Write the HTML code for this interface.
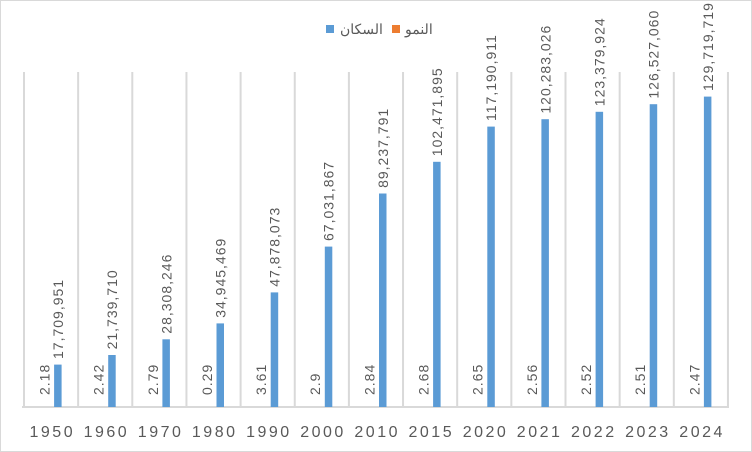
<!DOCTYPE html>
<html><head><meta charset="utf-8"><style>
body{margin:0;background:#fff}
svg{display:block}
text{font-family:"Liberation Sans","Noto Sans CJK SC",sans-serif;fill:#595959}
</style></head><body>
<svg width="752" height="452" xmlns="http://www.w3.org/2000/svg">
<rect x="0.5" y="0.5" width="751" height="451" fill="#fff" stroke="#d9d9d9"/>
<g stroke="#d9d9d9" stroke-width="2">
<line x1="24" y1="72" x2="24" y2="407"/><line x1="78.15" y1="72" x2="78.15" y2="407"/><line x1="132.3" y1="72" x2="132.3" y2="407"/><line x1="186.45" y1="72" x2="186.45" y2="407"/><line x1="240.6" y1="72" x2="240.6" y2="407"/><line x1="294.75" y1="72" x2="294.75" y2="407"/><line x1="348.9" y1="72" x2="348.9" y2="407"/><line x1="403.05" y1="72" x2="403.05" y2="407"/><line x1="457.2" y1="72" x2="457.2" y2="407"/><line x1="511.35" y1="72" x2="511.35" y2="407"/><line x1="565.5" y1="72" x2="565.5" y2="407"/><line x1="619.65" y1="72" x2="619.65" y2="407"/><line x1="673.8" y1="72" x2="673.8" y2="407"/><line x1="727.95" y1="72" x2="727.95" y2="407"/>
<line x1="22" y1="407" x2="729" y2="407"/>
</g>
<g fill="#5b9bd5">
<rect x="54.1" y="364.6" width="7.5" height="42.4"/>
<rect x="108.2" y="355" width="7.5" height="52"/>
<rect x="162.4" y="339.3" width="7.5" height="67.7"/>
<rect x="216.5" y="323.4" width="7.5" height="83.6"/>
<rect x="270.7" y="292.4" width="7.5" height="114.6"/>
<rect x="324.8" y="246.6" width="7.5" height="160.4"/>
<rect x="379" y="193.5" width="7.5" height="213.5"/>
<rect x="433.1" y="161.8" width="7.5" height="245.2"/>
<rect x="487.3" y="126.6" width="7.5" height="280.4"/>
<rect x="541.4" y="119.2" width="7.5" height="287.8"/>
<rect x="595.6" y="111.8" width="7.5" height="295.2"/>
<rect x="649.7" y="104.2" width="7.5" height="302.8"/>
<rect x="703.9" y="96.6" width="7.5" height="310.4"/>
</g>
<g font-size="14" letter-spacing="1" style="fill:#6d6d6d">
<text transform="translate(63,359) rotate(-90)">17,709,951</text>
<text transform="translate(117.1,349.4) rotate(-90)">21,739,710</text>
<text transform="translate(171.3,333.7) rotate(-90)">28,308,246</text>
<text transform="translate(225.4,317.8) rotate(-90)">34,945,469</text>
<text transform="translate(279.6,286.8) rotate(-90)">47,878,073</text>
<text transform="translate(333.7,241) rotate(-90)">67,031,867</text>
<text transform="translate(387.9,187.9) rotate(-90)">89,237,791</text>
<text transform="translate(442,156.2) rotate(-90)">102,471,895</text>
<text transform="translate(496.2,121) rotate(-90)">117,190,911</text>
<text transform="translate(550.3,113.6) rotate(-90)">120,283,026</text>
<text transform="translate(604.5,106.2) rotate(-90)">123,379,924</text>
<text transform="translate(658.6,98.6) rotate(-90)">126,527,060</text>
<text transform="translate(712.8,91) rotate(-90)">129,719,719</text>
<text transform="translate(49.5,395) rotate(-90)">2.18</text>
<text transform="translate(103.6,395) rotate(-90)">2.42</text>
<text transform="translate(157.8,395) rotate(-90)">2.79</text>
<text transform="translate(211.9,395) rotate(-90)">0.29</text>
<text transform="translate(266.1,395) rotate(-90)">3.61</text>
<text transform="translate(320.2,395) rotate(-90)">2.9</text>
<text transform="translate(374.4,395) rotate(-90)">2.84</text>
<text transform="translate(428.5,395) rotate(-90)">2.68</text>
<text transform="translate(482.7,395) rotate(-90)">2.65</text>
<text transform="translate(536.8,395) rotate(-90)">2.56</text>
<text transform="translate(591,395) rotate(-90)">2.52</text>
<text transform="translate(645.1,395) rotate(-90)">2.51</text>
<text transform="translate(699.3,395) rotate(-90)">2.47</text>
</g>
<g font-size="16" text-anchor="middle" letter-spacing="2.5">
<text x="52.3" y="437">1950</text><text x="106.4" y="437">1960</text><text x="160.6" y="437">1970</text><text x="214.7" y="437">1980</text><text x="268.9" y="437">1990</text><text x="323" y="437">2000</text><text x="377.2" y="437">2010</text><text x="431.3" y="437">2015</text><text x="485.5" y="437">2020</text><text x="539.6" y="437">2021</text><text x="593.8" y="437">2022</text><text x="647.9" y="437">2023</text><text x="702.1" y="437">2024</text>
</g>
<rect x="326" y="25" width="8" height="8" fill="#5b9bd5"/>
<text x="340" y="34" font-size="14">السكان</text>
<rect x="392" y="25" width="8" height="8" fill="#ed7d31"/>
<text x="405" y="34" font-size="14">النمو</text>
</svg>
</body></html>
